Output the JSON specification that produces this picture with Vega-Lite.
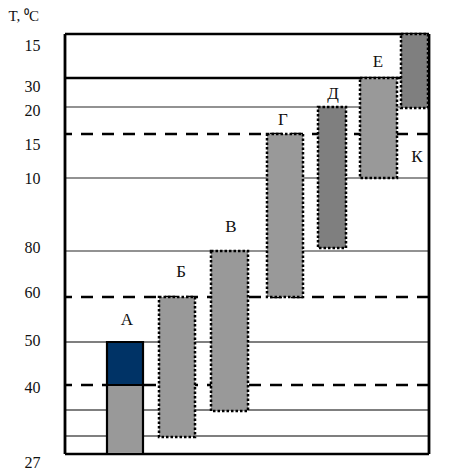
{
  "$schema": "https://vega.github.io/schema/vega-lite/v6.json",
  "width": 364,
  "height": 435,
  "autosize": {"type": "none"},
  "padding": {"left": 65, "top": 34, "right": 20, "bottom": 0},
  "background": "white",
  "config": {
    "view": {"stroke": null},
    "font": "Liberation Serif",
    "axisY": {
      "domain": false,
      "ticks": false,
      "grid": false,
      "labelPadding": 25,
      "labelFontSize": 16,
      "labelFont": "Liberation Serif",
      "labelColor": "#111111",
      "labelAlign": "right",
      "labelBaseline": "middle",
      "titleAngle": 0,
      "titleX": -57,
      "titleY": -19,
      "titleAlign": "left",
      "titleBaseline": "middle",
      "titleFont": "Liberation Serif",
      "titleFontWeight": "normal",
      "titleFontSize": 15,
      "titleColor": "#111111"
    }
  },
  "datasets": {
    "hlines": [
      {"level": 420, "kind": "thick"},
      {"level": 376, "kind": "thick"},
      {"level": 347, "kind": "gray"},
      {"level": 320, "kind": "dashed"},
      {"level": 276, "kind": "gray"},
      {"level": 203, "kind": "gray"},
      {"level": 157, "kind": "dashed"},
      {"level": 112, "kind": "thin"},
      {"level": 69, "kind": "dashed"},
      {"level": 44, "kind": "thin"},
      {"level": 18, "kind": "thin"},
      {"level": 0, "kind": "thick"}
    ],
    "frame": [
      {"pos": 0, "level": 0, "hi": 420},
      {"pos": 364, "level": 0, "hi": 420}
    ],
    "bars": [
      {"id": "A1", "x1": 42, "x2": 78, "level": 0, "hi": 69, "shade": "light", "border": "solid"},
      {"id": "A2", "x1": 42, "x2": 78, "level": 69, "hi": 112, "shade": "navy", "border": "solid"},
      {"id": "B", "x1": 94, "x2": 130, "level": 17, "hi": 157, "shade": "light", "border": "dotted"},
      {"id": "V", "x1": 146, "x2": 183, "level": 43, "hi": 203, "shade": "light", "border": "dotted"},
      {"id": "G", "x1": 202, "x2": 238, "level": 157, "hi": 320, "shade": "light", "border": "dotted"},
      {"id": "D", "x1": 253, "x2": 281, "level": 206, "hi": 347, "shade": "dark", "border": "dotted"},
      {"id": "E", "x1": 295, "x2": 332, "level": 276, "hi": 376, "shade": "light", "border": "dotted"},
      {"id": "K", "x1": 336, "x2": 363, "level": 346, "hi": 420, "shade": "dark", "border": "dotted"}
    ],
    "letters": [
      {"x1": 62, "level": 134, "t": "А"},
      {"x1": 116, "level": 182, "t": "Б"},
      {"x1": 166, "level": 227, "t": "В"},
      {"x1": 218, "level": 334, "t": "Г"},
      {"x1": 268, "level": 360, "t": "Д"},
      {"x1": 313, "level": 392, "t": "Е"},
      {"x1": 352, "level": 297, "t": "К"}
    ]
  },
  "encoding": {
    "y": {
      "field": "level",
      "type": "quantitative",
      "scale": {"domain": [-15, 420], "nice": false, "zero": false},
      "axis": {
        "values": [409, 368, 344, 310, 276, 207, 162, 114, 67, -8],
        "labelExpr": "datum.value == 409 ? '15' : datum.value == 368 ? '30' : datum.value == 344 ? '20' : datum.value == 310 ? '15' : datum.value == 276 ? '10' : datum.value == 207 ? '80' : datum.value == 162 ? '60' : datum.value == 114 ? '50' : datum.value == 67 ? '40' : '27'",
        "title": "T, ⁰C"
      }
    }
  },
  "layer": [
    {
      "data": {"name": "hlines"},
      "transform": [{"filter": "datum.kind === 'thin'"}],
      "mark": {"type": "rule", "stroke": "black", "strokeWidth": 1.2}
    },
    {
      "data": {"name": "hlines"},
      "transform": [{"filter": "datum.kind === 'gray'"}],
      "mark": {"type": "rule", "stroke": "#6e6e6e", "strokeWidth": 1.5}
    },
    {
      "data": {"name": "hlines"},
      "transform": [{"filter": "datum.kind === 'dashed'"}],
      "mark": {"type": "rule", "stroke": "black", "strokeWidth": 2.5, "strokeDash": [12, 9]}
    },
    {
      "data": {"name": "hlines"},
      "transform": [{"filter": "datum.kind === 'thick'"}],
      "mark": {"type": "rule", "stroke": "black", "strokeWidth": 2.5}
    },
    {
      "data": {"name": "frame"},
      "mark": {"type": "rule", "stroke": "black", "strokeWidth": 2.8},
      "encoding": {
        "x": {"field": "pos", "type": "quantitative", "scale": {"domain": [0, 364], "nice": false, "zero": false}, "axis": null},
        "y2": {"field": "hi"}
      }
    },
    {
      "data": {"name": "bars"},
      "transform": [{"filter": "datum.border === 'dotted'"}],
      "mark": {"type": "rect", "stroke": "black", "strokeWidth": 2.5, "strokeDash": [2.5, 2]},
      "encoding": {
        "x": {"field": "x1", "type": "quantitative", "axis": null},
        "x2": {"field": "x2"},
        "y2": {"field": "hi"},
        "fill": {"field": "shade", "type": "nominal", "scale": {"domain": ["light", "dark", "navy"], "range": ["#999999", "#7f7f7f", "#003366"]}, "legend": null}
      }
    },
    {
      "data": {"name": "bars"},
      "transform": [{"filter": "datum.border === 'solid'"}],
      "mark": {"type": "rect", "stroke": "black", "strokeWidth": 2.2},
      "encoding": {
        "x": {"field": "x1", "type": "quantitative", "axis": null},
        "x2": {"field": "x2"},
        "y2": {"field": "hi"},
        "fill": {"field": "shade", "type": "nominal", "legend": null}
      }
    },
    {
      "data": {"name": "letters"},
      "mark": {"type": "text", "font": "Liberation Serif", "fontSize": 17, "color": "#111111", "align": "center", "baseline": "middle"},
      "encoding": {
        "x": {"field": "x1", "type": "quantitative", "axis": null},
        "text": {"field": "t"}
      }
    }
  ]
}
